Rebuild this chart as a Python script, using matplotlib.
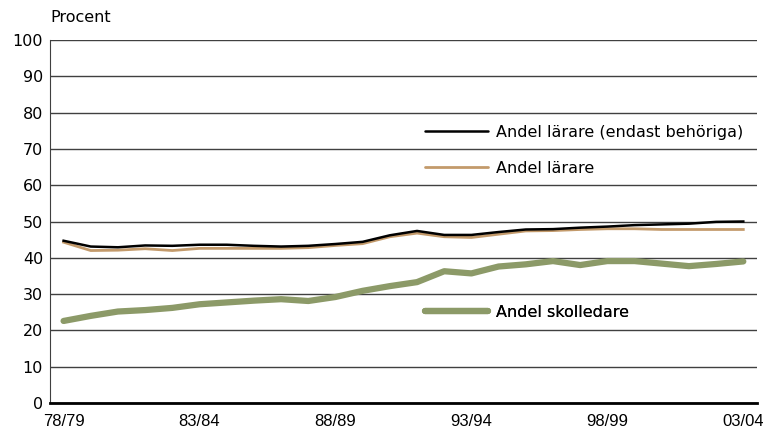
import matplotlib
matplotlib.use('Agg')
import matplotlib.pyplot as plt
import numpy as np
from matplotlib.lines import Line2D

# läsår 78/79 .. 03/04
years = [f"{y % 100:02d}/{(y + 1) % 100:02d}" for y in range(1978, 2004)]
tick_labels = ['78/79', '83/84', '88/89', '93/94', '98/99', '03/04']

behoriga = [44.7, 43.1, 42.9, 43.4, 43.3, 43.6, 43.6, 43.3, 43.1, 43.3, 43.8, 44.4,
            46.2, 47.4, 46.3, 46.3, 47.1, 47.8, 47.9, 48.3, 48.6, 49.0, 49.2, 49.4, 49.9, 50.0]
larare = [44.3, 42.0, 42.1, 42.5, 42.0, 42.6, 42.6, 42.6, 42.6, 42.8, 43.4, 43.9,
          45.8, 46.8, 45.8, 45.6, 46.5, 47.4, 47.5, 47.8, 48.0, 48.0, 47.8, 47.8, 47.8, 47.8]
skolledare = [22.6, 24.0, 25.2, 25.6, 26.2, 27.2, 27.7, 28.2, 28.6, 28.1, 29.2, 30.9,
              32.2, 33.3, 36.3, 35.7, 37.6, 38.2, 39.1, 38.0, 39.1, 39.1, 38.4, 37.7, 38.3, 39.0]

x = np.arange(len(years))

fig = plt.figure(figsize=(7.63, 4.33), dpi=100)
ax = fig.add_axes([0.0655, 0.0693, 0.9265, 0.8383])

ax.plot(x, skolledare, color='#8c9a68', lw=4.5, solid_capstyle='round', zorder=3)
ax.plot(x, larare, color='#c39a6b', lw=2, zorder=4)
ax.plot(x, behoriga, color='black', lw=1.8, zorder=5)

ax.set_xlim(-0.5, len(years) - 0.5)
ax.set_ylim(0, 100)
ax.set_yticks(range(0, 101, 10))
ax.yaxis.grid(True, color='#404040', lw=1)
ax.set_axisbelow(True)
ax.set_xticks([years.index(t) for t in tick_labels])
ax.set_xticklabels(tick_labels, family='Liberation Sans', fontsize=12)
for lab in ax.get_yticklabels():
    lab.set_family('DejaVu Sans')
    lab.set_fontsize(11.5)
ax.tick_params(length=0, pad=5)
ax.tick_params(axis='x', pad=8)

for s in ['top', 'right']:
    ax.spines[s].set_visible(False)
ax.spines['left'].set_color('#404040')
ax.spines['bottom'].set_linewidth(2)

fig.text(50 / 763, 1 - 18 / 433, 'Procent', fontsize=11.5, va='center', ha='left')

# legender inne i diagrammet
entries = [
    ('Andel lärare (endast behöriga)', 'black', 1.8, 0.745),
    ('Andel lärare', '#c39a6b', 2, 0.647),
    ('Andel skolledare', '#8c9a68', 4.5, 0.25),
]
for label, color, lw, ypos in entries:
    leg = ax.legend(handles=[Line2D([], [], color=color, lw=lw, solid_capstyle='round')],
                    labels=[label], loc='center left', bbox_to_anchor=(0.531, ypos),
                    frameon=False, fontsize=11.5, handlelength=3.9, handletextpad=0.5,
                    borderaxespad=0, borderpad=0)
    ax.add_artist(leg)

fig.savefig('out.png', dpi=100)
